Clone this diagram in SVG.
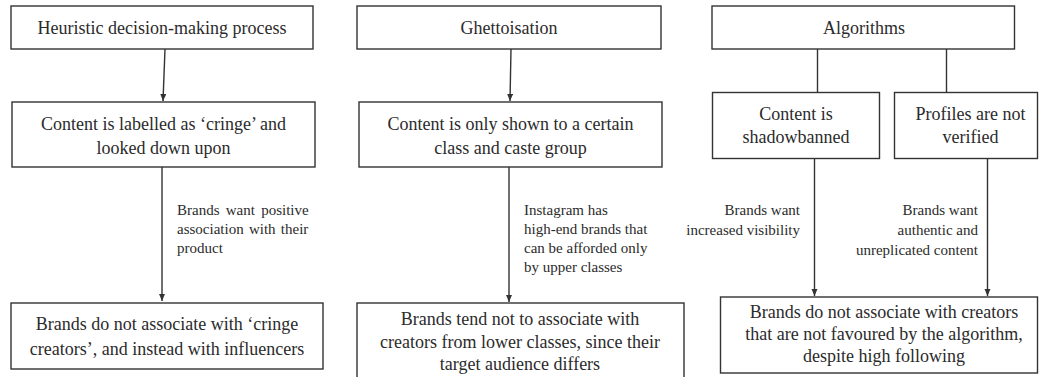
<svg xmlns="http://www.w3.org/2000/svg" width="1039" height="377" viewBox="0 0 1039 377">
<style>
.box{fill:#fff;stroke:#333;stroke-width:1.4}
.t{font-family:"Liberation Serif","Times New Roman",serif;font-size:18px;fill:#2b2b2b;text-anchor:middle}
.l{font-family:"Liberation Serif","Times New Roman",serif;font-size:15px;fill:#2b2b2b}
.r{text-anchor:end}
.c{fill:none;stroke:#333;stroke-width:1.4}
</style>
<defs>
<marker id="ah" markerUnits="userSpaceOnUse" markerWidth="8" markerHeight="7" refX="7" refY="3" orient="auto">
<path d="M0,0 L7,3 L0,6 z" fill="#333"/>
</marker>
</defs>
<rect width="1039" height="377" fill="#fff"/>
<g id="connectors">
<line class="c" x1="165" y1="49" x2="163" y2="101" marker-end="url(#ah)"/>
<line class="c" x1="162" y1="167" x2="162" y2="301" marker-end="url(#ah)"/>
<line class="c" x1="511" y1="49" x2="510" y2="101" marker-end="url(#ah)"/>
<line class="c" x1="509" y1="167" x2="509" y2="302" marker-end="url(#ah)"/>
<line class="c" x1="817.5" y1="49" x2="817.5" y2="92.5"/>
<line class="c" x1="946.5" y1="49" x2="946.5" y2="92.5"/>
<line class="c" x1="814.5" y1="158" x2="814.5" y2="296" marker-end="url(#ah)"/>
<line class="c" x1="987.5" y1="158" x2="987.5" y2="296" marker-end="url(#ah)"/>
<text class="l" x="177" y="215" word-spacing="2.5">Brands want positive</text>
<text class="l" x="177" y="234" word-spacing="1.5">association with their</text>
<text class="l" x="177" y="253">product</text>
<text class="l" x="524" y="215">Instagram has</text>
<text class="l" x="524" y="234">high-end brands that</text>
<text class="l" x="524" y="253">can be afforded only</text>
<text class="l" x="524" y="272">by upper classes</text>
<text class="l r" x="800" y="215">Brands want</text>
<text class="l r" x="800" y="235">increased visibility</text>
<text class="l r" x="978" y="215">Brands want</text>
<text class="l r" x="978" y="235">authentic and</text>
<text class="l r" x="978" y="255">unreplicated content</text>
</g>
<g id="heuristic">
<rect class="box" x="11" y="6" width="302" height="43"/>
<text class="t" x="162" y="34">Heuristic decision-making process</text>
</g>
<g id="cringe">
<rect class="box" x="12" y="102" width="303" height="65"/>
<text class="t" x="163.5" y="130">Content is labelled as ‘cringe’ and</text>
<text class="t" x="163.5" y="154">looked down upon</text>
</g>
<g id="brands-cringe">
<rect class="box" x="11" y="303" width="312" height="66"/>
<text class="t" x="167" y="330">Brands do not associate with ‘cringe</text>
<text class="t" x="167" y="355">creators’, and instead with influencers</text>
</g>
<g id="ghettoisation">
<rect class="box" x="357" y="6" width="304" height="43"/>
<text class="t" x="509" y="34">Ghettoisation</text>
</g>
<g id="shown">
<rect class="box" x="359" y="102" width="303" height="65"/>
<text class="t" x="510.5" y="130">Content is only shown to a certain</text>
<text class="t" x="510.5" y="154">class and caste group</text>
</g>
<g id="brands-class">
<rect class="box" x="357" y="303" width="327" height="80"/>
<text class="t" x="520" y="325">Brands tend not to associate with</text>
<text class="t" x="520" y="348">creators from lower classes, since their</text>
<text class="t" x="520" y="370">target audience differs</text>
</g>
<g id="algorithms">
<rect class="box" x="712" y="6" width="302.5" height="43"/>
<text class="t" x="864" y="34">Algorithms</text>
</g>
<g id="shadowbanned">
<rect class="box" x="712.5" y="92.5" width="167" height="66"/>
<text class="t" x="796" y="120">Content is</text>
<text class="t" x="796" y="143">shadowbanned</text>
</g>
<g id="verified">
<rect class="box" x="894.5" y="92.5" width="143" height="66"/>
<text class="t" x="970.5" y="120">Profiles are not</text>
<text class="t" x="970.5" y="143">verified</text>
</g>
<g id="brands-algorithm">
<rect class="box" x="720.5" y="297" width="317" height="76"/>
<text class="t" x="884" y="318">Brands do not associate with creators</text>
<text class="t" x="884" y="340">that are not favoured by the algorithm,</text>
<text class="t" x="884" y="362">despite high following</text>
</g>
</svg>
